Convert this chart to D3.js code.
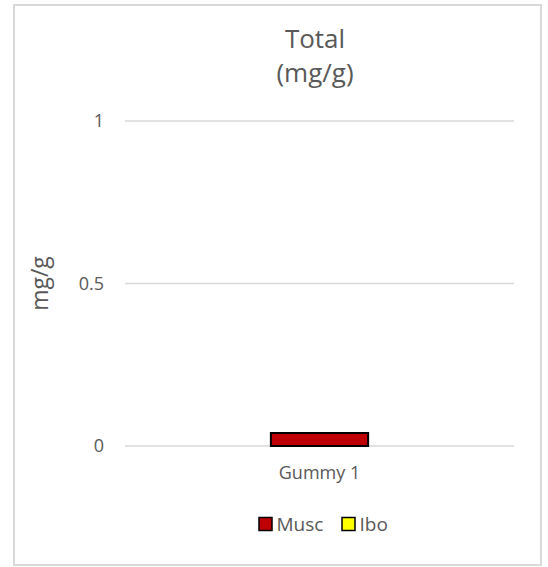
<!DOCTYPE html>
<html><head><meta charset="utf-8">
<script src="https://cdn.jsdelivr.net/npm/d3@7"></script>
<style>body{margin:0;background:#fff;} text{font-family:"Open Sans","Noto Sans",sans-serif;}</style>
</head><body>
<svg id="c" width="548" height="567"></svg>
<script>
const categories = ["Gummy 1"];
const seriesNames = ["Musc", "Ibo"];
const muscValues = [0.04];
const iboValues = [0];
const yTicks = [0, 0.5, 1];
const colors = ["#c00000", "#ffff00"];
const titleLines = ["Total", "(mg/g)"];

const svg = d3.select("#c");
svg.append("rect").attr("x", 14).attr("y", 5).attr("width", 527).attr("height", 560)
  .attr("fill", "#fff").attr("stroke", "#d9d9d9").attr("stroke-width", 2);

const m = {left: 125, right: 514, top: 121, bottom: 446};
const x = d3.scaleBand().domain(categories).range([m.left, m.right]).paddingInner(0.75).paddingOuter(0.375);
const y = d3.scaleLinear().domain([0, 1]).range([m.bottom, m.top]);

// gridlines
svg.append("g").selectAll("line").data(yTicks).join("line")
  .attr("x1", m.left).attr("x2", m.right)
  .attr("y1", d => y(d)).attr("y2", d => y(d))
  .attr("stroke", "#d9d9d9").attr("stroke-width", 1.5);

// y axis labels
const yAxis = d3.axisLeft(y).tickValues(yTicks).tickSize(0).tickPadding(0).tickFormat(d3.format("~g"));
const ga = svg.append("g").attr("transform", `translate(${m.left - 21},0)`).call(yAxis);
ga.select(".domain").remove();
ga.selectAll("text").attr("font-size", 18).attr("fill", "#595959").attr("font-family", "Open Sans, Noto Sans, sans-serif");

// stacked data
const data = categories.map((c, i) => ({cat: c, Musc: muscValues[i], Ibo: iboValues[i]}));
const stack = d3.stack().keys(seriesNames)(data);
svg.append("g").selectAll("g").data(stack).join("g")
  .attr("fill", (d, i) => colors[i])
  .selectAll("rect").data(d => d.filter(p => p[1] - p[0] > 0)).join("rect")
  .attr("x", d => x(d.data.cat)).attr("width", x.bandwidth())
  .attr("y", d => y(d[1])).attr("height", d => y(d[0]) - y(d[1]))
  .attr("stroke", "#000").attr("stroke-width", 2);

// x labels
const xAxis = d3.axisBottom(x).tickSize(0).tickPadding(0);
const gx = svg.append("g").attr("transform", `translate(0,${m.bottom + 20})`).call(xAxis);
gx.select(".domain").remove();
gx.selectAll("text").attr("font-size", 18).attr("fill", "#595959").attr("font-family", "Open Sans, Noto Sans, sans-serif").attr("dy", "0.71em");

// title
svg.append("g").selectAll("text").data(titleLines).join("text")
  .attr("x", 315).attr("y", (d, i) => 48 + i * 34)
  .attr("text-anchor", "middle").attr("fill", "#595959").attr("font-size", 26).text(d => d);

// y axis title
svg.append("text").attr("transform", `translate(40,${(m.top + m.bottom) / 2}) rotate(-90)`)
  .attr("text-anchor", "middle").attr("fill", "#595959").attr("font-size", 23).attr("dy", "0.35em").text("mg/g");

// legend
const legX = [259, 342];
const lg = svg.append("g").selectAll("g").data(seriesNames).join("g")
  .attr("transform", (d, i) => `translate(${legX[i]},524)`);
lg.append("rect").attr("x", 0).attr("y", -6.5).attr("width", 13).attr("height", 13)
  .attr("fill", (d, i) => colors[i]).attr("stroke", "#000").attr("stroke-width", 1.5);
lg.append("text").attr("x", 17.5).attr("y", 0).attr("dy", "0.35em").attr("font-size", 19).attr("fill", "#595959").text(d => d);
</script>
</body></html>
